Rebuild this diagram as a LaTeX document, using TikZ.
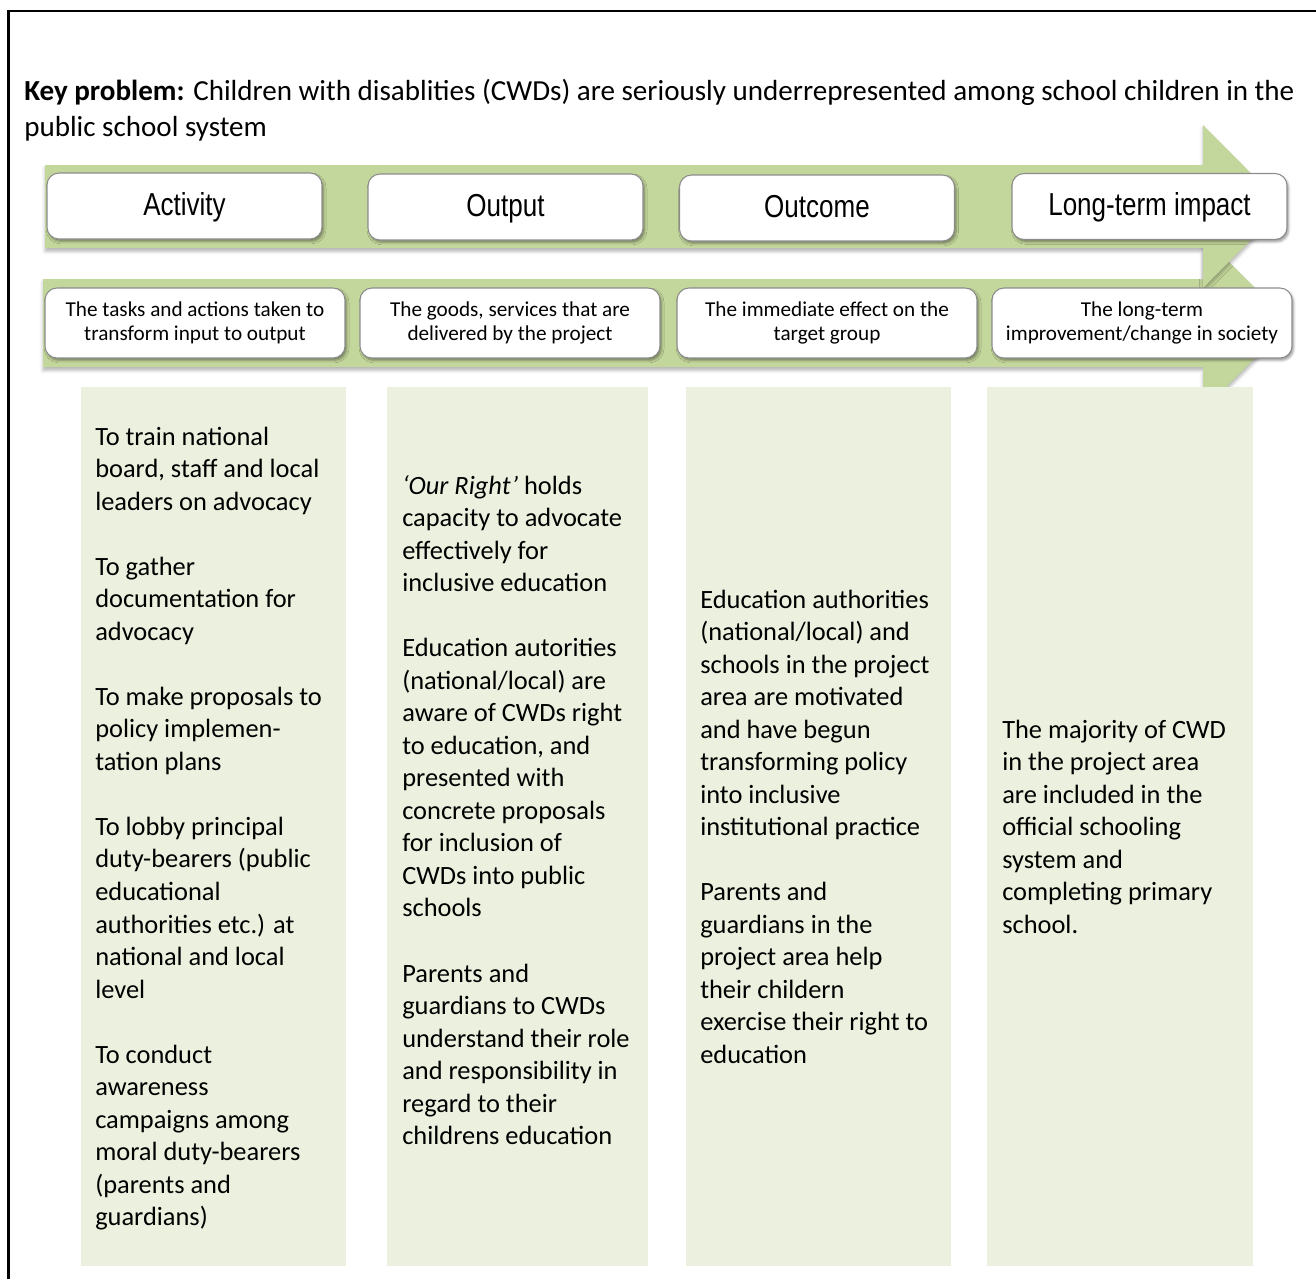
\documentclass[tikz,border=0pt]{standalone}
\usepackage{fontspec}
\setmainfont{Carlito}
\newfontfamily\narrowfont[FakeStretch=0.82]{Liberation Sans}
\usetikzlibrary{shadows.blur}
\definecolor{arrowgreen}{HTML}{C3D69B}
\definecolor{colgreen}{HTML}{EBF1DE}
\definecolor{boxline}{HTML}{8C8C8C}
\tikzset{
  bigarrow/.style={fill=arrowgreen, draw=none,
    blur shadow={shadow xshift=0pt, shadow yshift=-2.5pt, shadow blur radius=2.5pt, shadow opacity=30}},
  headbox/.style={draw=boxline, line width=0.8pt, fill=white, rounded corners=9pt,
    minimum width=206.25pt, minimum height=49.5pt, inner sep=0pt,
    text height=13.5pt, text depth=0pt,
    blur shadow={shadow xshift=1.2pt, shadow yshift=-1.8pt, shadow blur radius=1.8pt, shadow opacity=40},
    font=\narrowfont\fontsize{23.8}{28}\selectfont},
  descbox/.style={draw=boxline, line width=0.8pt, fill=white, rounded corners=9pt,
    minimum width=225pt, minimum height=52.5pt, inner sep=0pt, align=center,
    blur shadow={shadow xshift=1.2pt, shadow yshift=-1.8pt, shadow blur radius=1.8pt, shadow opacity=40},
    font=\fontsize{15.9}{18.3}\selectfont},
  colfill/.style={fill=colgreen, draw=none},
  coltext/.style={anchor=base west, inner sep=0pt, font=\fontsize{19.8}{24.4}\selectfont},
  frameline/.style={draw=black, line width=2pt}
}
\begin{document}
\begin{tikzpicture}[x=0.75pt, y=-0.75pt]
\useasboundingbox (0,0) rectangle (1316,1279);
% frame
\draw[frameline] (8.7,1279) -- (8.7,11) -- (1316,11);
% title
\node[anchor=base west, inner sep=0pt, font=\fontsize{21.8}{27}\selectfont] (title) at (24,100)
  {\parbox[t]{990pt}{\raggedright\textbf{Key problem:} Children with disablities (CWDs) are seriously underrepresented among school children in the\\ public school system}};
% arrows
\path[bigarrow] (43,279) -- (1203,279) -- (1203,236) -- (1290,323) -- (1203,410) -- (1203,367) -- (43,367) -- cycle;
\path[bigarrow] (45,165) -- (1203,165) -- (1203,125) -- (1284,206.5) -- (1203,288) -- (1203,248) -- (45,248) -- cycle;
% header boxes
\node[headbox] (act) at (184.5,206) {Activity};
\node[headbox] (out) at (505.5,207) {Output};
\node[headbox] (outc) at (817,208) {Outcome};
\node[headbox] (lti) at (1149.5,206.5) {Long-term impact};
% description boxes
\node[descbox] (d1) at (195,323) {The tasks and actions taken to\\transform input to output};
\node[descbox] (d2) at (510,323) {The goods, services that are\\delivered by the project};
\node[descbox] (d3) at (827,323) {The immediate effect on the\\target group};
\node[descbox] (d4) at (1142,323) {The long-term\\improvement/change in society};
% columns
\fill[colfill] (81,387) rectangle (346,1266);
\fill[colfill] (387,387) rectangle (648,1266);
\fill[colfill] (686,387) rectangle (951,1266);
\fill[colfill] (987,387) rectangle (1253,1266);
% column texts
\node[coltext] (t1) at (95,445) {\parbox[t]{250pt}{\raggedright
To train national\\
board, staff and local\\
leaders on advocacy\\[24.4pt]
To gather\\
documentation for\\
advocacy\\[24.4pt]
To make proposals to\\
policy implemen-\\
tation plans\\[24.4pt]
To lobby principal\\
duty-bearers (public\\
educational\\
authorities etc.) at\\
national and local\\
level\\[24.4pt]
To conduct\\
awareness\\
campaigns among\\
moral duty-bearers\\
(parents and\\
guardians)}};
\node[coltext] (t2) at (402,494) {\parbox[t]{250pt}{\raggedright
\textit{‘Our Right’} holds\\
capacity to advocate\\
effectively for\\
inclusive education\\[24.4pt]
Education autorities\\
(national/local) are\\
aware of CWDs right\\
to education, and\\
presented with\\
concrete proposals\\
for inclusion of\\
CWDs into public\\
schools\\[24.4pt]
Parents and\\
guardians to CWDs\\
understand their role\\
and responsibility in\\
regard to their\\
childrens education}};
\node[coltext] (t3) at (700,608) {\parbox[t]{250pt}{\raggedright
Education authorities\\
(national/local) and\\
schools in the project\\
area are motivated\\
and have begun\\
transforming policy\\
into inclusive\\
institutional practice\\[24.4pt]
Parents and\\
guardians in the\\
project area help\\
their childern\\
exercise their right to\\
education}};
\node[coltext] (t4) at (1002,738) {\parbox[t]{250pt}{\raggedright
The majority of CWD\\
in the project area\\
are included in the\\
official schooling\\
system and\\
completing primary\\
school.}};
\end{tikzpicture}
\end{document}
